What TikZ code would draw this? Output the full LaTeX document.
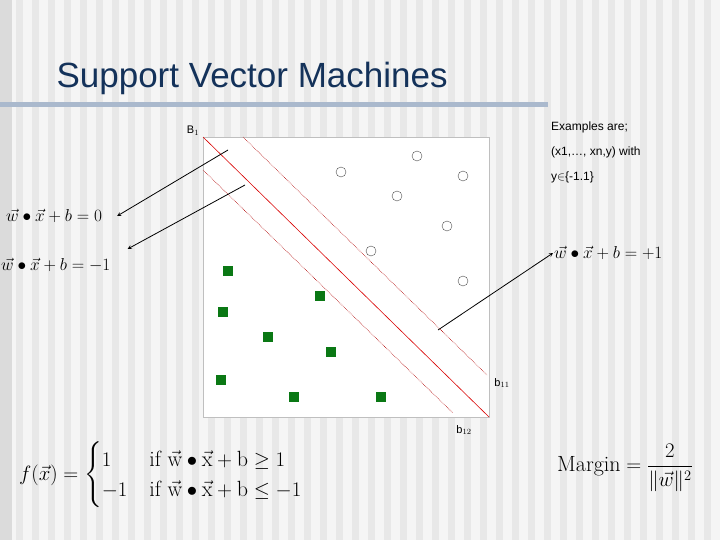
\documentclass[tikz,border=0pt]{standalone}
\usepackage{fontspec}
\setsansfont{Liberation Sans}
\usepackage{amsmath,amssymb}
\usetikzlibrary{positioning}
\definecolor{titleblue}{RGB}{20,50,90}
\definecolor{barblue}{RGB}{170,185,205}
\definecolor{sqgreen}{RGB}{10,120,20}
\begin{document}
\begin{tikzpicture}[x=1pt,y=-1pt,>=stealth]
    \tikzstyle{negpoint}=[rectangle,fill=sqgreen,minimum size=10pt,inner sep=0pt]
    \tikzstyle{pospoint}=[circle,draw=black!70,thin,minimum size=10pt,inner sep=0pt]
    \tikzstyle{eq}=[inner sep=1pt,font=\fontsize{18}{20}\selectfont]
    \tikzstyle{bigeq}=[inner sep=1pt,font=\fontsize{22}{25}\selectfont]
    \tikzstyle{note}=[anchor=west,inner sep=0pt,font=\sffamily\fontsize{12}{13}\selectfont]
    \tikzstyle{pointer}=[->,thick,black]

    % background with stripes
    \useasboundingbox (0,0) rectangle (720,540);
    \fill[black!4] (0,0) rectangle (720,540);
    \foreach \x in {0,16,...,704}
        \fill[black!9] (\x,0) rectangle ++(7,540);
    \fill[black!14] (0,0) rectangle (12,540);

    % title
    \node[anchor=west,text=titleblue,font=\sffamily\fontsize{35}{38}\selectfont] (title) at (53,78) {Support Vector Machines};
    \fill[barblue] (0,102) rectangle (548,107);

    % plot area
    \draw[black!25,fill=white] (203,137) rectangle (489,417);
    \coordinate (B1) at (203,137);
    \coordinate (B2) at (489,417);
    \draw[red!85!black,semithick] (B1) -- (B2);
    \draw[red!70!black,densely dotted,semithick] (243,137) -- (487,375);
    \draw[red!70!black,densely dotted,semithick] (203,170) -- (453,413);
    \node[font=\sffamily\fontsize{11}{12}\selectfont] (lB) at (193,131) {B$_1$};
    \node[font=\sffamily\fontsize{11}{12}\selectfont] (lb11) at (502,383) {b$_{11}$};
    \node[font=\sffamily\fontsize{11}{12}\selectfont] (lb12) at (464,430) {b$_{12}$};

    % data points
    \foreach \x/\y [count=\i] in {417/156,341/172,463/176,397/196,447/226,371/251,463/281}
        \node[pospoint] (P-\i) at (\x,\y) {};
    \foreach \x/\y [count=\i] in {228/271,320/296,223/312,268/337,331/352,221/380,294/397,381/397}
        \node[negpoint] (N-\i) at (\x,\y) {};

    % hyperplane equations
    \node[eq,anchor=west] (E0) at (5,216) {$\vec{w}\bullet\vec{x}+b=0$};
    \node[eq,anchor=west] (E1) at (0,265) {$\vec{w}\bullet\vec{x}+b=-1$};
    \node[eq,anchor=west] (E2) at (553,253) {$\vec{w}\bullet\vec{x}+b=+1$};
    \coordinate (s0) at (228,150);
    \coordinate (s1) at (245,185);
    \coordinate (s2) at (438,330);
    \draw[pointer] (s0) -- ([xshift=14pt]E0.east);
    \draw[pointer] (s1) -- ([xshift=16pt,yshift=16pt]E1.east);
    \draw[pointer] (s2) -- (E2.west);

    % notes
    \node[note] (n1) at (551,127) {Examples are;};
    \node[note] (n2) at (551,152) {(x1,\dots, xn,y) with};
    \node[note] (n3) at (551,177) {y$\in$\{-1.1\}};

    % decision function and margin
    \node[bigeq,anchor=west] (F) at (18,475)
        {$f(\vec{x})=\begin{cases}1 & \text{if } \vec{\mathrm{w}}\bullet\vec{\mathrm{x}}+\mathrm{b}\geq 1\\ -1 & \text{if } \vec{\mathrm{w}}\bullet\vec{\mathrm{x}}+\mathrm{b}\leq -1\end{cases}$};
    \node[bigeq,anchor=west] (M) at (556,468) {$\text{Margin}=\dfrac{2}{\|\vec{w}\|^2}$};
\end{tikzpicture}
\end{document}
